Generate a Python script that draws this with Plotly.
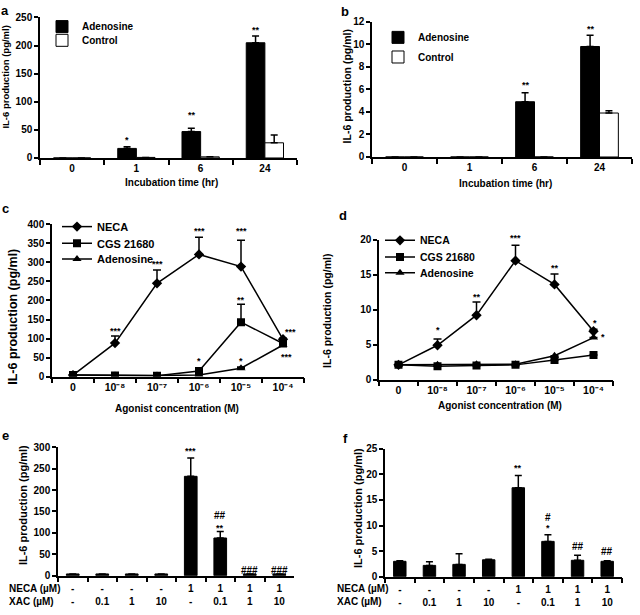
import plotly.graph_objects as go

# ---------------- data ----------------
a_cats = ["0", "1", "6", "24"]
a_aden = [0, 17, 47, 205]
a_aden_err = [0, 3, 6, 12]
a_ctrl = [0, 1, 2, 27]
a_ctrl_err = [0, 0, 0, 14]
a_sig = ["", "*", "**", "**"]

b_cats = ["0", "1", "6", "24"]
b_aden = [0, 0, 4.9, 9.8]
b_aden_err = [0, 0, 0.8, 1.0]
b_ctrl = [0, 0, 0, 3.9]
b_ctrl_err = [0, 0, 0, 0.2]
b_sig = ["", "", "**", "**"]

conc_cats = ["0", "10\u207b\u2078", "10\u207b\u2077", "10\u207b\u2076", "10\u207b\u2075", "10\u207b\u2074"]

c_neca = [4, 88, 245, 321, 289, 98]
c_neca_err = [0, 19, 35, 45, 69, 3]
c_cgs = [4, 3, 2, 15, 143, 87]
c_cgs_err = [0, 0, 0, 0, 47, 3]
c_aden = [4, 3, 3, 4, 22, 83]
c_aden_err = [0, 0, 0, 0, 3, 2]
c_neca_sig = ["", "***", "***", "***", "***", "***"]
c_cgs_sig = ["", "", "", "*", "**", ""]
c_aden_sig = ["", "", "", "", "*", "***"]

d_neca = [2.1, 4.9, 9.2, 17.0, 13.6, 6.9]
d_neca_err = [0, 0.9, 1.9, 2.2, 1.5, 0.3]
d_cgs = [2.1, 1.9, 2.0, 2.1, 2.8, 3.5]
d_cgs_err = [0, 0, 0, 0, 0, 0]
d_aden = [2.1, 2.1, 2.2, 2.2, 3.4, 6.0]
d_aden_err = [0, 0, 0, 0, 0, 0]
d_neca_sig = ["", "*", "**", "***", "**", "*"]
d_aden_sig = ["", "", "", "", "", "*"]

neca_row = ["-", "-", "-", "-", "1", "1", "1", "1"]
xac_row = ["-", "0.1", "1", "10", "-", "0.1", "1", "10"]

e_vals = [4, 4, 4, 4, 232, 88, 4, 4]
e_err = [0, 0, 0, 0, 43, 15, 0, 0]
e_sig = ["", "", "", "", "***", "**", "", ""]
e_hash = ["", "", "", "", "", "##", "###", "###"]

f_vals = [3.0, 2.2, 2.4, 3.3, 17.4, 6.9, 3.2, 3.0]
f_err = [0.1, 0.7, 2.1, 0.1, 2.4, 1.3, 1.0, 0.1]
f_sig = ["", "", "", "", "**", "*", "", ""]
f_hash = ["", "", "", "", "", "#", "##", "##"]

# ---------------- helpers ----------------
W, H = 640, 615
FONT = "Arial, 'Liberation Sans', Helvetica, sans-serif"


def px(x):
    return x / W


def py(y):
    return 1 - y / H


def bfont(size):
    return dict(family=FONT, size=size, color="black", weight="bold")


xe_cats = [f"{n}|{x}" for n, x in zip(neca_row, xac_row)]
xe_text = [f"{n}<br>{x}" for n, x in zip(neca_row, xac_row)]

fig = go.Figure()

ERR = dict(type="data", symmetric=False, color="black", thickness=1.5, width=3.5)


def err(arr):
    return dict(ERR, array=arr, arrayminus=[0] * len(arr))


BW = 0.29
# panel a
fig.add_trace(go.Bar(x=a_cats, y=a_aden, name="Adenosine", marker=dict(color="black", line=dict(color="black", width=1)),
                     offset=-BW, width=BW, error_y=err(a_aden_err), xaxis="x", yaxis="y", legend="legend"))
fig.add_trace(go.Bar(x=a_cats, y=a_ctrl, name="Control", marker=dict(color="white", line=dict(color="black", width=1)),
                     offset=0, width=BW, error_y=err(a_ctrl_err), xaxis="x", yaxis="y", legend="legend2"))
# panel b
fig.add_trace(go.Bar(x=b_cats, y=b_aden, name="Adenosine", marker=dict(color="black", line=dict(color="black", width=1)),
                     offset=-BW, width=BW, error_y=err(b_aden_err), xaxis="x2", yaxis="y2", legend="legend3"))
fig.add_trace(go.Bar(x=b_cats, y=b_ctrl, name="Control", marker=dict(color="white", line=dict(color="black", width=1)),
                     offset=0, width=BW, error_y=err(b_ctrl_err), xaxis="x2", yaxis="y2", legend="legend4"))

# panel c / d lines
series_c = [("NECA", c_neca, c_neca_err, "diamond", 8, "legend5"),
            ("CGS 21680", c_cgs, c_cgs_err, "square", 8, "legend6"),
            ("Adenosine", c_aden, c_aden_err, "triangle-up", 8, "legend7")]
for name, v, e, sym, sz, lg in series_c:
    fig.add_trace(go.Scatter(x=conc_cats, y=v, name=name, mode="lines+markers",
                             line=dict(color="black", width=1.5),
                             marker=dict(symbol=sym, size=sz, color="black"),
                             error_y=dict(err(e), width=4), xaxis="x3", yaxis="y3", legend=lg))
series_d = [("NECA", d_neca, d_neca_err, "diamond", 8, "legend8"),
            ("CGS 21680", d_cgs, d_cgs_err, "square", 8, "legend9"),
            ("Adenosine", d_aden, d_aden_err, "triangle-up", 8, "legend10")]
for name, v, e, sym, sz, lg in series_d:
    fig.add_trace(go.Scatter(x=conc_cats, y=v, name=name, mode="lines+markers",
                             line=dict(color="black", width=1.5),
                             marker=dict(symbol=sym, size=sz, color="black"),
                             error_y=dict(err(e), width=4), xaxis="x4", yaxis="y4", legend=lg))

# panel e / f bars
fig.add_trace(go.Bar(x=xe_cats, y=e_vals, width=0.43, marker=dict(color="black", line=dict(color="black", width=1)),
                     error_y=err(e_err), xaxis="x5", yaxis="y5", showlegend=False))
fig.add_trace(go.Bar(x=xe_cats, y=f_vals, width=0.42, marker=dict(color="black", line=dict(color="black", width=1)),
                     error_y=err(f_err), xaxis="x6", yaxis="y6", showlegend=False))


# ---------------- axes ----------------
def xax(dom, anchor, **kw):
    d = dict(domain=[px(dom[0]), px(dom[1])], anchor=anchor, type="category", showline=True, linecolor="black",
             linewidth=1.5, ticks="outside", ticklen=5, tickwidth=1.5, tickcolor="black", tickson="boundaries",
             showgrid=False, zeroline=False, tickfont=bfont(10), fixedrange=True)
    d.update(kw)
    return d


def yax(dom, anchor, rng, dtick, **kw):
    d = dict(domain=[py(dom[1]), py(dom[0])], anchor=anchor, range=rng, dtick=dtick, showline=True, linecolor="black",
             linewidth=1.5, ticks="outside", ticklen=4, tickwidth=1.5, tickcolor="black", showgrid=False,
             zeroline=False, tickfont=bfont(10), fixedrange=True)
    d.update(kw)
    return d


layout = dict(
    width=W, height=H, margin=dict(l=0, r=0, t=0, b=0), paper_bgcolor="white", plot_bgcolor="white",
    barmode="overlay", font=dict(family=FONT, color="black"),
    xaxis=xax((40, 297), "y", range=[-0.5, 3.5]),
    yaxis=yax((11.7, 155), "x", [0, 250], 50),
    xaxis2=xax((372, 632), "y2", range=[-0.5, 3.5]),
    yaxis2=yax((16, 154), "x2", [0, 12], 2),
    xaxis3=xax((52, 304), "y3", range=[-0.5, 5.5], tickfont=bfont(10.5)),
    yaxis3=yax((222.7, 378), "x3", [0, 400], 50),
    xaxis4=xax((379, 613), "y4", range=[-0.5, 5.5], tickfont=bfont(10.5)),
    yaxis4=yax((238.3, 381), "x4", [0, 20], 5),
    xaxis5=xax((58, 294), "y5", range=[-0.5, 7.5], tickvals=xe_cats, ticktext=xe_text, ticklabelstandoff=3),
    yaxis5=yax((450, 581), "x5", [0, 300], 50),
    xaxis6=xax((385, 622), "y6", range=[-0.5, 7.5], tickvals=xe_cats, ticktext=xe_text, ticklabelstandoff=3),
    yaxis6=yax((451.7, 582), "x6", [0, 25], 5),
)


def leg(xp, yp, size):
    return dict(x=px(xp), y=py(yp), xanchor="left", yanchor="middle", bgcolor="rgba(0,0,0,0)",
                borderwidth=0, font=bfont(size), itemwidth=30, itemclick=False, itemdoubleclick=False)


layout["legend"] = leg(42, 21, 10)
layout["legend2"] = leg(42, 35, 10)
layout["legend3"] = leg(378, 32, 10)
layout["legend4"] = leg(378, 52, 10)
layout["legend5"] = leg(57, 225, 11)
layout["legend6"] = leg(57, 242, 11)
layout["legend7"] = leg(57, 258, 11)
layout["legend8"] = leg(380, 239, 10.5)
layout["legend9"] = leg(380, 256, 10.5)
layout["legend10"] = leg(380, 272, 10.5)

ann = []


def text_px(t, x, y, size, angle=0, xa="center", ya="middle"):
    ann.append(dict(text=t, x=px(x), y=py(y), xref="paper", yref="paper", showarrow=False, font=bfont(size),
                    textangle=angle, xanchor=xa, yanchor=ya))


# panel letters
for t, x, y in [("a", 5, 5), ("b", 345, 6), ("c", 5, 207), ("d", 343, 214), ("e", 5, 438), ("f", 345, 441)]:
    text_px(t, x, y, 13)

# axis titles
YT = "IL-6 production (pg/ml)"
text_px(YT, 6, 73, 9.5, -90)
text_px(YT, 347, 82, 10.5, -90)
text_px(YT, 13, 317, 12.5, -90)
text_px(YT, 327, 311, 10.5, -90)
text_px(YT, 23, 509, 11, -90)
text_px(YT, 358, 512, 11, -90)
text_px("Incubation time (hr)", 171, 180, 10)
text_px("Incubation time (hr)", 505, 181, 10)
text_px("Agonist concentration (M)", 177, 411, 10)
text_px("Agonist concentration (M)", 500, 407, 10)
text_px("NECA (\u00b5M)", 7, 594, 10, xa="left")
text_px("XAC (\u00b5M)", 7, 607, 10, xa="left")
text_px("NECA (\u00b5M)", 335, 594, 10, xa="left")
text_px("XAC (\u00b5M)", 335, 607, 10, xa="left")


def sig(xr, yr, vals, errs, labels, shift=6, size=9, custom=None):
    # x given as category index so that numeric-looking category names are not misread
    custom = custom or {}
    for i, lab in enumerate(labels):
        if not lab:
            continue
        xs, ys = custom.get(i, (0, shift))
        ann.append(dict(text=lab, x=i, y=vals[i] + errs[i], xref=xr, yref=yr, showarrow=False,
                        font=bfont(size), xanchor="center", yanchor="middle", xshift=xs, yshift=ys))


sig("x", "y", a_aden, a_aden_err, a_sig, custom={1: (-9, 7), 2: (-9, 13), 3: (-9, 6)})
sig("x2", "y2", b_aden, b_aden_err, b_sig, custom={2: (-9, 8), 3: (-9, 6)})
sig("x3", "y3", c_neca, c_neca_err, c_neca_sig, shift=6, custom={1: (0, 5), 4: (0, 9), 5: (7, 6)})
sig("x3", "y3", c_cgs, c_cgs_err, c_cgs_sig, shift=4, custom={3: (0, 10)})
sig("x3", "y3", c_aden, c_aden_err, c_aden_sig, shift=6, custom={5: (3, -13)})
sig("x4", "y4", d_neca, d_neca_err, d_neca_sig, shift=6, custom={1: (0, 9), 2: (0, 5), 3: (0, 7), 5: (1, 6)})
sig("x4", "y4", d_aden, d_aden_err, d_aden_sig, custom={5: (9, 1)})
sig("x5", "y5", e_vals, e_err, e_sig, shift=7, custom={5: (0, 4)})
sig("x5", "y5", e_vals, e_err, e_hash, shift=3, size=10, custom={5: (0, 16)})
sig("x6", "y6", f_vals, f_err, f_sig, shift=7)
sig("x6", "y6", f_vals, f_err, f_hash, shift=9, size=10, custom={5: (0, 17)})

layout["annotations"] = ann
fig.update_layout(**layout)
# remove the browser's default 8px page margin so the figure sits at the window origin
fig.write_html("out.html", config={"displayModeBar": False},
               post_script="document.body.style.margin='0';document.body.style.overflow='hidden';")
